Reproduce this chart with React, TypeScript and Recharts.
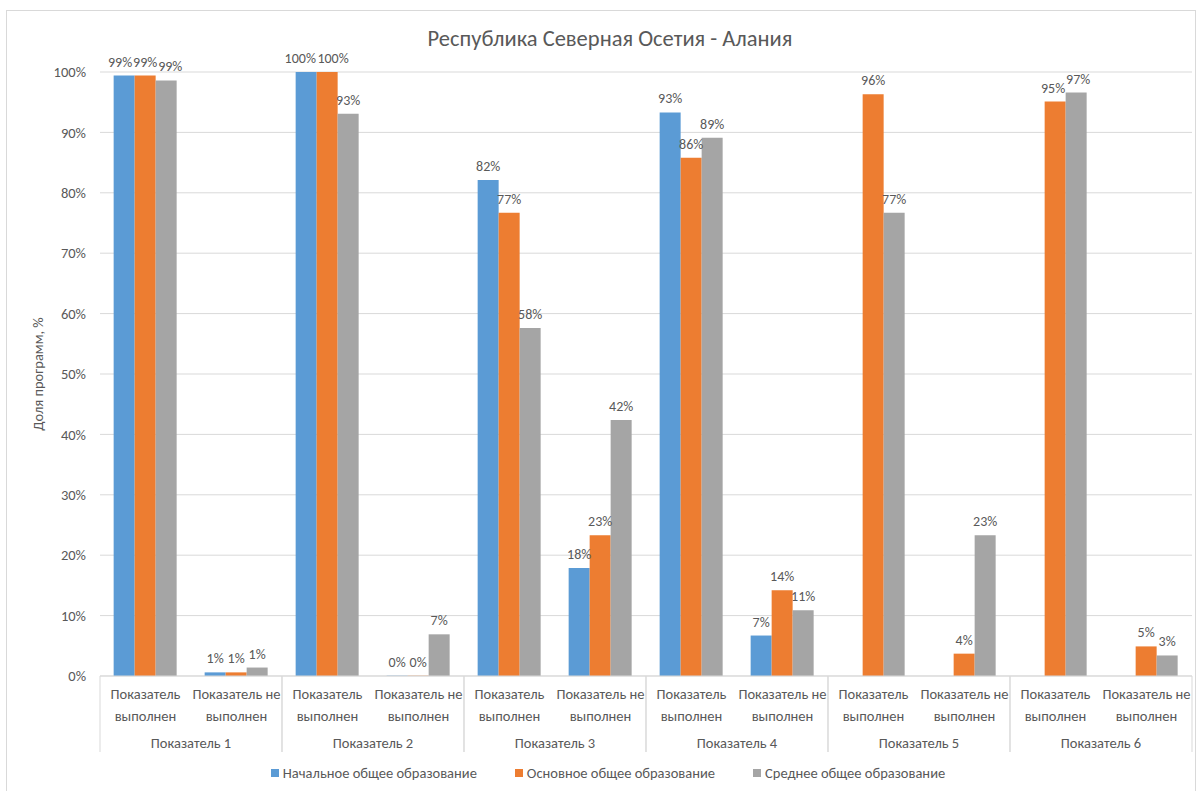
import React from 'react';
import { BarChart, Bar, XAxis, YAxis, CartesianGrid, LabelList } from 'recharts';

const categories = [
  'Показатель\nвыполнен', 'Показатель не\nвыполнен',
  'Показатель\nвыполнен', 'Показатель не\nвыполнен',
  'Показатель\nвыполнен', 'Показатель не\nвыполнен',
  'Показатель\nвыполнен', 'Показатель не\nвыполнен',
  'Показатель\nвыполнен', 'Показатель не\nвыполнен',
  'Показатель\nвыполнен', 'Показатель не\nвыполнен',
];
const groups = ['Показатель 1', 'Показатель 2', 'Показатель 3', 'Показатель 4', 'Показатель 5', 'Показатель 6'];

const primary: (number | null)[] = [99.4, 0.6, 100, 0.05, 82.1, 17.9, 93.3, 6.7, null, null, null, null];
const basic: (number | null)[] = [99.4, 0.6, 100, 0.05, 76.7, 23.3, 85.8, 14.2, 96.3, 3.7, 95.1, 4.9];
const secondary: (number | null)[] = [98.6, 1.4, 93.1, 6.9, 57.6, 42.4, 89.1, 10.9, 76.7, 23.3, 96.6, 3.4];

const seriesNames = ['Начальное общее образование', 'Основное общее образование', 'Среднее общее образование'];
const colors = ['#5B9BD5', '#ED7D31', '#A5A5A5'];
const yTicks = [0, 10, 20, 30, 40, 50, 60, 70, 80, 90, 100];

const seriesVals = [primary, basic, secondary];

const data = categories.map((c, i) => ({
  cat: c,
  idx: i,
  primary: primary[i],
  basic: basic[i],
  secondary: secondary[i],
}));

const FONT = "Carlito, Calibri, Lato, 'Noto Sans', 'Liberation Sans', sans-serif";
const TXT = '#595959';
const FS = 14.5;
const LFS = 14;

const labelText = (v: number) => `${Math.round(v)}%`;
const estW = (s: string) => s.length * 7.7;

// how many px two adjacent labels must move apart (0 if no collision)
const needShift = (i: number, a: number, b: number, ppu: number, barW: number) => {
  const va = seriesVals[a]?.[i];
  const vb = seriesVals[b]?.[i];
  if (va == null || vb == null) return 0;
  if (Math.abs(va - vb) * ppu >= 15) return 0;
  const need = (estW(labelText(va)) + estW(labelText(vb))) / 2 + 2;
  return Math.max(0, need - barW);
};

const makeLabel = (si: number) => (props: any) => {
  const vb = props.viewBox || props;
  const { index, value } = props;
  if (value === null || value === undefined) return null;
  const v = Number(value);
  const barW = vb.width;
  const ppu = v > 0 && vb.height ? Math.abs(vb.height) / v : 6;
  const sL = si > 0 ? needShift(index, si - 1, si, ppu, barW) : 0;
  const sR = si < 2 ? needShift(index, si, si + 1, ppu, barW) : 0;
  let dx = 0;
  if (sL > 0 && sR > 0) dx = 0;
  else if (sR > 0) {
    const rightAlsoR = si + 1 < 2 ? needShift(index, si + 1, si + 2, ppu, barW) > 0 : false;
    dx = rightAlsoR ? -sR : -sR / 2;
  } else if (sL > 0) {
    const leftAlsoL = si - 1 > 0 ? needShift(index, si - 2, si - 1, ppu, barW) > 0 : false;
    dx = leftAlsoL ? sL : sL / 2;
  }
  const top = Math.min(vb.y, vb.y + vb.height);
  return (
    <text x={vb.x + barW / 2 + dx} y={top - 9} textAnchor="middle" fontSize={LFS} fill={TXT} fontFamily={FONT}>
      {labelText(v)}
    </text>
  );
};

const CatTick = (props: any) => {
  const { x, y, payload } = props;
  const i = payload.index ?? props.index ?? 0;
  const half = payload.offset || 45.5;
  const lines = categories[i].split('\n');
  const isFirst = i % 2 === 0;
  return (
    <g>
      {lines.map((l, k) => (
        <text key={k} x={x} y={y + 23 + k * 22} textAnchor="middle" fontSize={FS} fill={TXT} fontFamily={FONT}>
          {l}
        </text>
      ))}
      {isFirst && (
        <line x1={x - half} x2={x - half} y1={y} y2={y + 76} stroke="#d9d9d9" strokeWidth={1} />
      )}
      {!isFirst && (
        <line x1={x + half} x2={x + half} y1={y} y2={y + 76} stroke="#d9d9d9" strokeWidth={1} />
      )}
      {!isFirst && (
        <text x={x - half} y={y + 72} textAnchor="middle" fontSize={FS} fill={TXT} fontFamily={FONT}>
          {groups[Math.floor(i / 2)]}
        </text>
      )}
    </g>
  );
};

const YLabel = (props: any) => {
  const vb = props.viewBox || {};
  const cx = 38;
  const cy = (vb.y ?? 72) + (vb.height ?? 604) / 2;
  return (
    <text x={cx} y={cy} transform={`rotate(-90 ${cx} ${cy})`} textAnchor="middle" dominantBaseline="central" fontSize={FS} fill={TXT} fontFamily={FONT}>
      Доля программ, %
    </text>
  );
};

export default function App() {
  const keys = ['primary', 'basic', 'secondary'];
  return (
    <div style={{ position: 'absolute', left: 0, top: 0, width: 1200, height: 791, background: '#fff', overflow: 'hidden', fontFamily: FONT }}>
      <div style={{ position: 'absolute', left: 6, top: 10, width: 1190, height: 800, border: '1px solid #d9d9d9', boxSizing: 'border-box' }} />
      <div style={{ position: 'absolute', left: 310, width: 600, top: 25, textAlign: 'center', fontSize: 22.5, color: TXT }}>
        Республика Северная Осетия - Алания
      </div>
      <div style={{ position: 'absolute', left: 0, top: 0 }}>
        <BarChart width={1200} height={791} data={data} margin={{ top: 72, right: 8, bottom: 0, left: 0 }} barCategoryGap="15%" barGap={0}>
          <CartesianGrid vertical={false} stroke="#d9d9d9" />
          <XAxis dataKey="idx" tick={<CatTick />} tickLine={false} tickSize={0} tickMargin={0} axisLine={{ stroke: '#d9d9d9' }} interval={0} height={115} />
          <YAxis width={100} domain={[0, 100]} ticks={yTicks} tickFormatter={(v: number) => `${v}%`} axisLine={false} tickLine={false} tickMargin={8}
            tick={{ fontSize: FS, fill: TXT, fontFamily: FONT }} label={<YLabel />} />
          {keys.map((k, si) => (
            <Bar key={k} dataKey={k} name={seriesNames[si]} fill={colors[si]} isAnimationActive={false}>
              <LabelList dataKey={k} content={makeLabel(si)} />
            </Bar>
          ))}
        </BarChart>
      </div>
      <div style={{ position: 'absolute', left: 0, width: 1216, top: 764, display: 'flex', justifyContent: 'center', gap: 38, fontSize: FS, color: TXT }}>
        {seriesNames.map((n, i) => (
          <div key={n} style={{ display: 'flex', alignItems: 'center' }}>
            <span style={{ display: 'inline-block', width: 8, height: 8, background: colors[i], marginRight: 4 }} />
            <span>{n}</span>
          </div>
        ))}
      </div>
    </div>
  );
}
